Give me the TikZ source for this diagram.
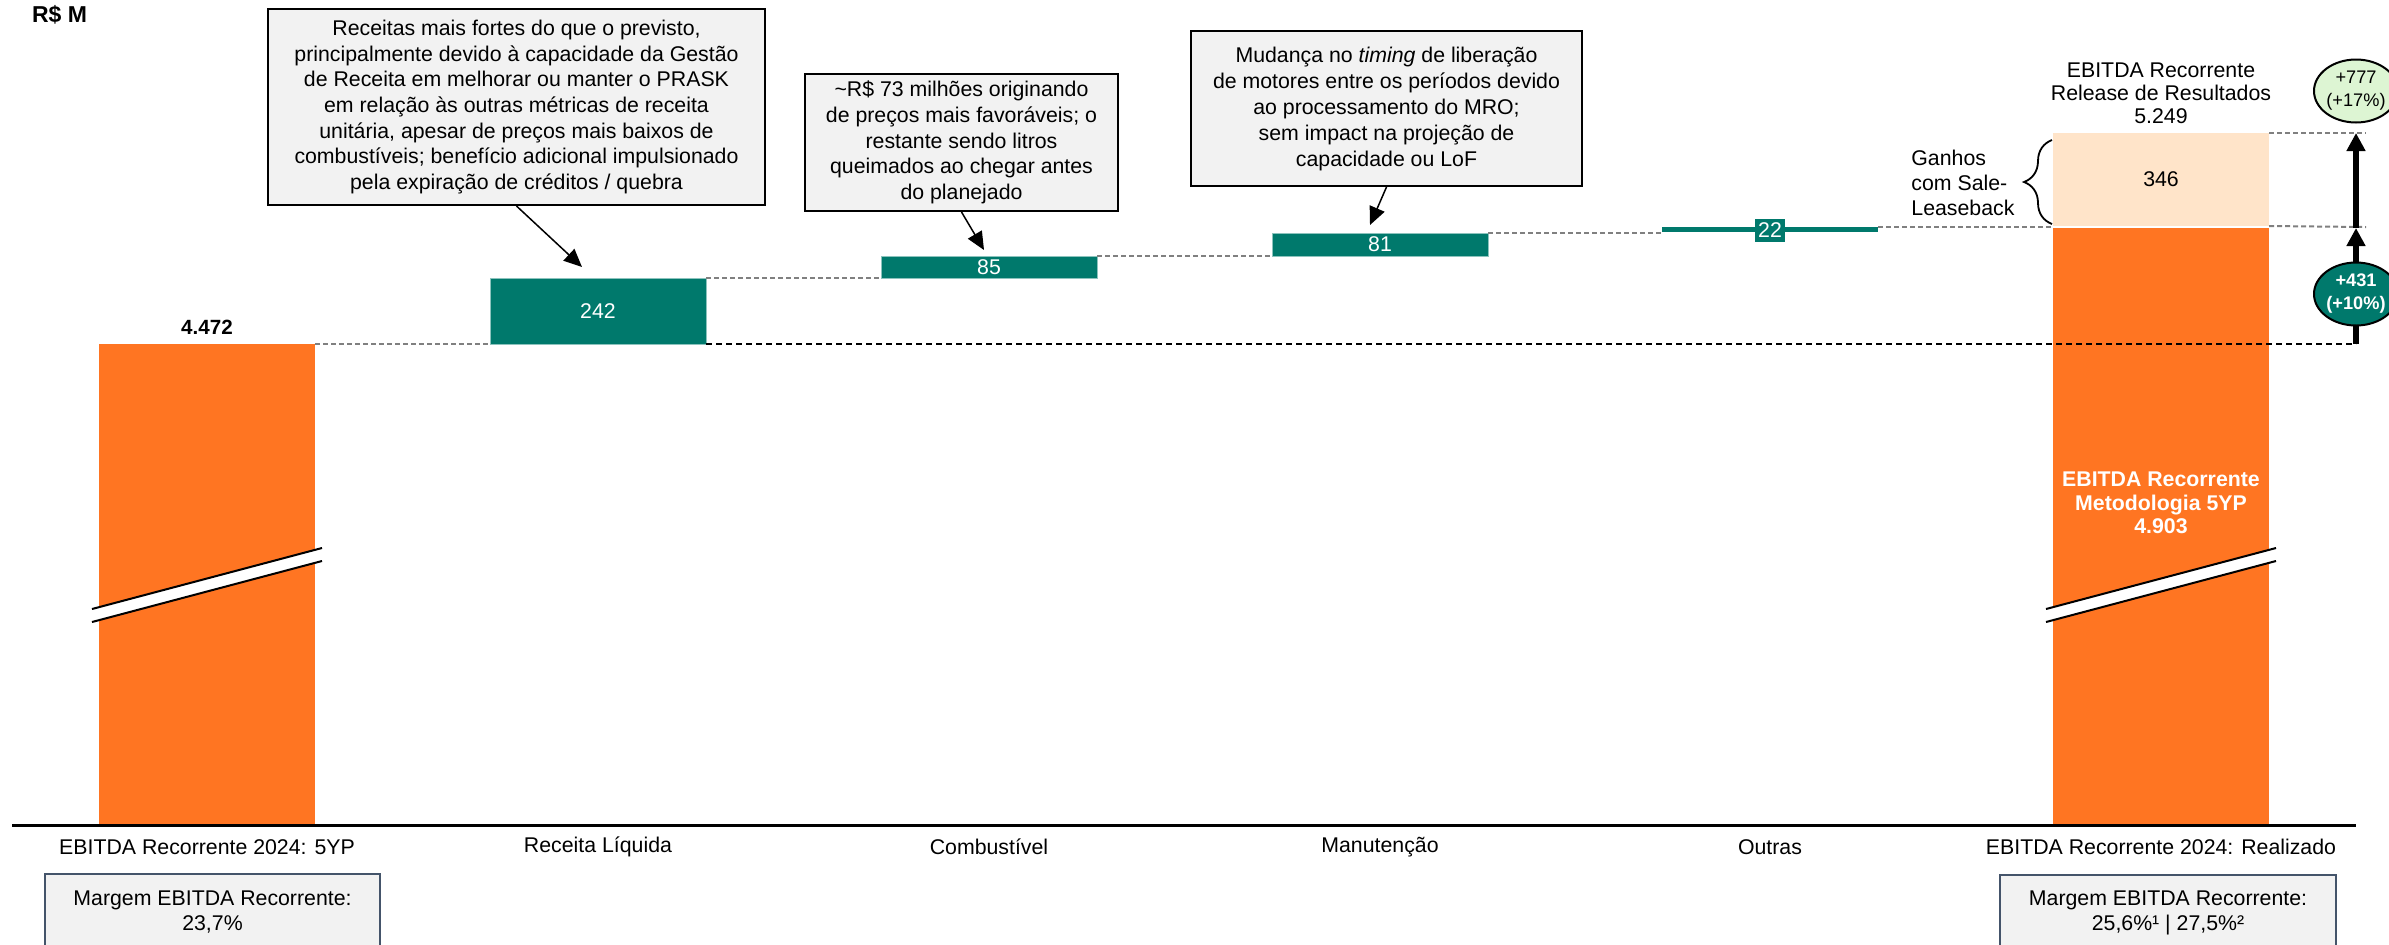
\documentclass[tikz,border=0pt]{standalone}
\usepackage{fontspec}
\setmainfont{Liberation Sans}
\usetikzlibrary{arrows.meta,shapes.geometric,decorations.pathreplacing}
\definecolor{orangeB}{RGB}{255,117,34}
\definecolor{tealB}{RGB}{0,121,108}
\definecolor{peachB}{RGB}{255,228,201}
\definecolor{greenC}{RGB}{221,245,211}
\definecolor{boxgray}{RGB}{242,242,242}
\definecolor{slateB}{RGB}{68,84,106}
\definecolor{dashgray}{RGB}{128,128,128}
\tikzset{
  txt/.style={font=\fontsize{10.65}{12.8}\selectfont, inner sep=0, align=center},
  bar/.style={inner sep=0, outer sep=0, minimum width=108pt},
  tealbar/.style={bar, fill=tealB, draw=tealB!45!white, line width=0.4pt, text=white, font=\fontsize{10.65}{12.8}\selectfont},
  callout/.style={draw=black, line width=1pt, fill=boxgray, align=center, inner sep=0, font=\fontsize{10.65}{12.8}\selectfont},
  marginbox/.style={draw=slateB, line width=1pt, fill=boxgray, align=center, inner sep=0, font=\fontsize{10.65}{12.5}\selectfont},
  gdash/.style={draw=dashgray, line width=1pt, dash pattern=on 2.5pt off 1.5pt},
  kdash/.style={draw=black, line width=1.2pt, dash pattern=on 3pt off 2pt},
  callarr/.style={draw=black, line width=0.75pt, -{Triangle[length=9pt,width=8pt]}},
  bigarr/.style={draw=black, line width=3pt, -{Triangle[length=9pt,width=9pt]}},
  pill/.style={ellipse, draw=black, line width=1pt, minimum width=42pt, minimum height=31.5pt, inner sep=0, align=center, font=\fontsize{9.1}{11.5}\selectfont},
  breakband/.style={fill=white, draw=none},
  breakline/.style={draw=black, line width=1pt}
}
\begin{document}
\begin{tikzpicture}[x=0.5pt,y=-0.5pt]
\path[use as bounding box, clip] (0,0) rectangle (2389,944);

% title
\node[txt, font=\fontsize{11.5}{13}\selectfont\bfseries] (unit) at (59.5,15) {R\$ M};

% bars
\node[bar, fill=orangeB, minimum height=240.5pt] (b1) at (207,584.5) {};
\node[tealbar, minimum height=33pt] (b242) at (598,311) {242};
\node[tealbar, minimum height=11pt] (b85) at (989,267) {85};
\node[tealbar, minimum height=11.5pt] (b81) at (1380,244.5) {81};
\node[bar, fill=tealB, minimum height=2.5pt] (b22) at (1770,229.5) {};
\node[txt, fill=tealB, text=white, minimum width=15pt, minimum height=11.5pt] (l22) at (1770,230.5) {22};
\node[bar, fill=peachB, minimum height=46.5pt, font=\fontsize{10.65}{12.8}\selectfont] (b346) at (2161,179.5) {346};
\node[bar, fill=orangeB, minimum height=298.5pt] (b4903) at (2161,526.5) {};
\node[txt, text=white, font=\fontsize{10.65}{11.75}\selectfont\bfseries] (t4903) at (2161,503) {EBITDA Recorrente\\Metodologia 5YP\\4.903};

% value labels
\node[txt, font=\fontsize{10.3}{12}\selectfont\bfseries] (v4472) at (207,327) {4.472};
\node[txt, font=\fontsize{10.65}{11.5}\selectfont] (rel) at (2161,93) {EBITDA Recorrente\\Release de Resultados\\5.249};

% axis break marks
\fill[breakband] (92,609) -- (322,548) -- (322,561) -- (92,622) -- cycle;
\draw[breakline] (92,609) -- (322,548);
\draw[breakline] (92,622) -- (322,561);
\fill[breakband] (2046,609) -- (2276,548) -- (2276,561) -- (2046,622) -- cycle;
\draw[breakline] (2046,609) -- (2276,548);
\draw[breakline] (2046,622) -- (2276,561);

% connectors between bars
\coordinate (arrB) at (2356,344);
\coordinate (arrM) at (2356,228);
\coordinate (arrT) at (2356,133);
\coordinate (g1) at (2366,133);
\coordinate (g2) at (2366,227);
\draw[gdash] (b1.north east) -- (b242.south west);
\draw[gdash] (b242.north east) -- (b85.south west);
\draw[gdash] (b85.north east) -- (b81.south west);
\draw[gdash] (b81.north east) -- (b81.north east -| b22.west);
\draw[gdash] (b22.north east) -- (b22.north east -| b346.west);
\draw[gdash] (b346.north east) -- (g1);
\draw[gdash] (b346.south east) -- (g2);
\draw[kdash] (b242.south east) -- (arrB);

% big arrows and deltas
\draw[bigarr] (arrB) -- (arrM);
\draw[bigarr] (arrM) -- (arrT);
\node[pill, fill=tealB, text=white, font=\fontsize{9.1}{11.5}\selectfont\bfseries] (c431) at (2356,294) {+431\\(+10\%)};
\node[pill, fill=greenC] (c777) at (2356,91) {+777\\(+17\%)};

% brace and label
\draw[decorate, decoration={brace, amplitude=14pt}, line width=0.9pt] (2052,224) -- (2052,140);
\node[txt, anchor=west, align=left, font=\fontsize{10.65}{12.5}\selectfont] (ganhos) at (1911,183) {Ganhos\\com Sale-\\Leaseback};

% callouts
\node[callout, minimum width=248.5pt, minimum height=98pt] (box1) at (516.5,107) {Receitas mais fortes do que o previsto,\\principalmente devido à capacidade da Gestão\\de Receita em melhorar ou manter o PRASK\\em relação às outras métricas de receita\\unitária, apesar de preços mais baixos de\\combustíveis; benefício adicional impulsionado\\pela expiração de créditos / quebra};
\node[callout, minimum width=156.5pt, minimum height=68.5pt] (box2) at (961.5,142.5) {\textasciitilde R\$ 73 milhões originando\\de preços mais favoráveis; o\\restante sendo litros\\queimados ao chegar antes\\do planejado};
\node[callout, minimum width=195.5pt, minimum height=77.5pt, font=\fontsize{10.65}{13}\selectfont] (box3) at (1386.5,108.5) {Mudança no \textit{timing} de liberação\\de motores entre os períodos devido\\ao processamento do MRO;\\sem impact na projeção de\\capacidade ou LoF};
\coordinate (a1) at (582,267);
\coordinate (a2) at (984,250);
\coordinate (a3) at (1370,225);
\draw[callarr] (box1.south) -- (a1);
\draw[callarr] (box2.south) -- (a2);
\draw[callarr] (box3.south) -- (a3);

% axis
\coordinate (ax0) at (12,825);
\coordinate (ax1) at (2356,825);
\draw[line width=1.5pt] (ax0) -- (ax1);

% category labels
\node[txt] (cat1) at (207,847) {EBITDA Recorrente 2024: 5YP};
\node[txt] (cat2) at (598,847) {Receita Líquida};
\node[txt] (cat3) at (989,847) {Combustível};
\node[txt] (cat4) at (1380,847) {Manutenção};
\node[txt] (cat5) at (1770,847) {Outras};
\node[txt] (cat6) at (2161,847) {EBITDA Recorrente 2024: Realizado};

% margin boxes
\node[marginbox, minimum width=167.5pt, minimum height=38pt] (mL) at (212.5,912) {Margem EBITDA Recorrente:\\23,7\%};
\node[marginbox, minimum width=168pt, minimum height=38pt] (mR) at (2168,913) {Margem EBITDA Recorrente:\\25,6\%¹ | 27,5\%²};
\end{tikzpicture}
\end{document}
